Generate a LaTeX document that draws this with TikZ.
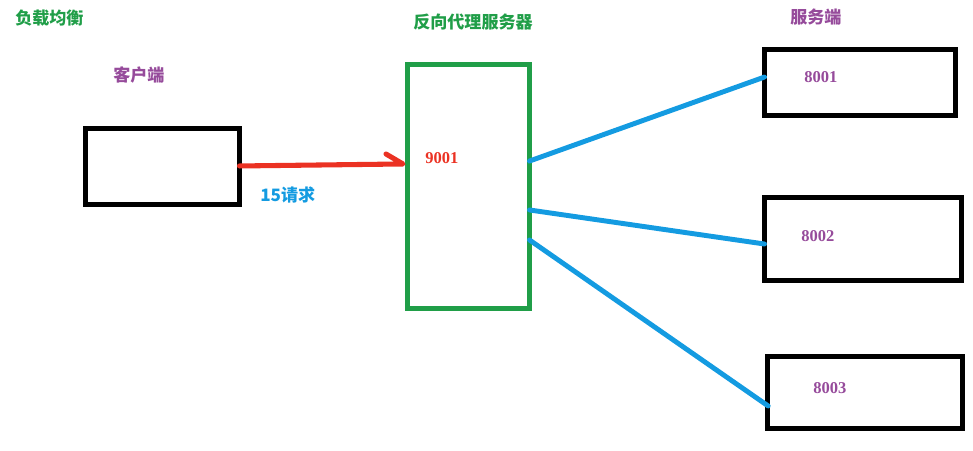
\documentclass[tikz,border=0pt]{standalone}
\usepackage{fontspec}
\setmainfont{Noto Sans CJK SC}
\newfontfamily\numf{Liberation Serif}
\definecolor{ggreen}{RGB}{32,158,72}
\definecolor{gpurple}{RGB}{150,75,155}
\definecolor{gblue}{RGB}{20,155,225}
\definecolor{gred}{RGB}{235,50,35}
\tikzset{
  blk/.style={draw=black, line width=3.8pt, inner sep=0pt, outer sep=0pt},
  grn/.style={draw=ggreen, line width=3.8pt, inner sep=0pt, outer sep=0pt},
  link/.style={draw=gblue, line width=3.7pt, line cap=round},
  req/.style={draw=gred, line width=3.8pt, line cap=round, line join=round},
  lbl/.style={anchor=west, inner sep=0pt, font=\fontsize{12.8pt}{14pt}\selectfont\bfseries},
  num/.style={anchor=west, inner sep=0pt, font=\fontsize{12.4pt}{14pt}\selectfont\numf\bfseries},
}
\begin{document}
\begin{tikzpicture}[x=0.75pt,y=-0.75pt]
\useasboundingbox (0,0) rectangle (973,450);
% boxes
\node[blk, minimum width=154*0.75pt, minimum height=76*0.75pt] (client) at (162.5,166.5) {};
\node[grn, minimum width=122*0.75pt, minimum height=244*0.75pt] (proxy) at (468.5,186.5) {};
\node[blk, minimum width=191*0.75pt, minimum height=66*0.75pt] (s1) at (860,82.5) {};
\node[blk, minimum width=197*0.75pt, minimum height=83*0.75pt] (s2) at (863,239) {};
\node[blk, minimum width=195*0.75pt, minimum height=72*0.75pt] (s3) at (865,392.5) {};
% labels
\node[lbl, text=ggreen] (t1) at (15,18) {负载均衡};
\node[lbl, text=gpurple] (t2) at (113,75) {客户端};
\node[lbl, text=gblue] (t3) at (260,195) {15请求};
\node[lbl, text=ggreen] (t4) at (413,22) {反向代理服务器};
\node[num, text=gred] (t5) at (425,158) {9001};
\node[lbl, text=gpurple] (t6) at (790,17) {服务端};
\node[num, text=gpurple] (n1) at (804,77) {8001};
\node[num, text=gpurple] (n2) at (801,236) {8002};
\node[num, text=gpurple] (n3) at (813,388) {8003};
% request arrow (hand-drawn half head)
\coordinate (rq) at ([xshift=-3.4pt,yshift=16.9pt]proxy.west);
\draw[req] ([yshift=0.4pt]client.east) -- (rq) -- ++(-17,-10);
% links
\draw[link] ([yshift=19.1pt]proxy.east) -- ([yshift=4.1pt]s1.west);
\draw[link] ([yshift=-17.6pt]proxy.east) -- ([yshift=-3.75pt]s2.west);
\draw[link] ([yshift=-40.1pt]proxy.east) -- ([xshift=0.5pt,yshift=-10.1pt]s3.west);
\end{tikzpicture}
\end{document}
